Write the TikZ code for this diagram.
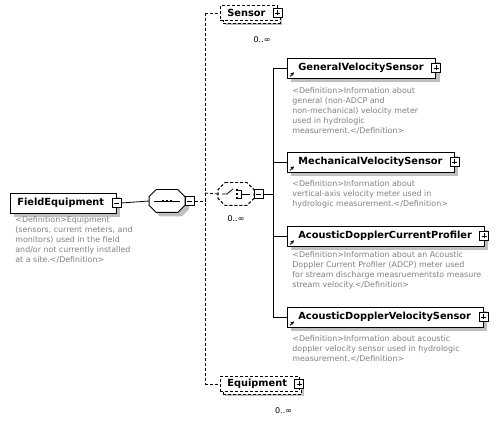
\documentclass[tikz,border=0pt]{standalone}
\usepackage{fontspec}
\setmainfont{DejaVu Sans}
\usetikzlibrary{shadows,arrows.meta}

% octagon outline of a compositor, drawn around a named node
\newcommand{\compshape}[2]{%
  \draw[#2] ([xshift=7pt]#1.north west) -- ([xshift=-7pt]#1.north east)
    -- ([yshift=-7pt]#1.north east) -- ([yshift=7pt]#1.south east)
    -- ([xshift=-7pt]#1.south east) -- ([xshift=7pt]#1.south west)
    -- ([yshift=7pt]#1.south west) -- ([yshift=-7pt]#1.north west) -- cycle;}

\begin{document}
\begin{tikzpicture}[x=1pt,y=-1pt,line width=0.8pt,
    shade/.style={drop shadow={shadow xshift=4pt,shadow yshift=-4pt,fill=black!25,opacity=1}},
    optline/.style={dash pattern=on 3pt off 2pt},
    box/.style={rectangle,draw,fill=white,inner xsep=7pt,inner ysep=0pt,anchor=west,
      font=\fontsize{9.8}{11}\selectfont\bfseries,execute at end node={\hspace{5pt}}},
    elem/.style={box,minimum height=20pt,shade},
    refelem/.style={elem,execute at begin node={\hspace{4pt}}},
    optelem/.style={box,optline,minimum height=15pt,
      drop shadow={shadow xshift=5pt,shadow yshift=-5pt,fill=black!25,opacity=1},
      general shadow={shadow xshift=2.5pt,shadow yshift=-2.5pt,draw=black,optline,fill=white}},
    defn/.style={anchor=north west,inner sep=0pt,align=left,text=black!50,
      font=\fontsize{7.9}{10}\selectfont},
    mult/.style={inner sep=0pt,font=\fontsize{8}{9}\selectfont},
    pm/.style={rectangle,draw,solid,fill=white,minimum size=9pt,inner sep=0pt},
    minus/.style={pm,path picture={
      \draw ([xshift=2pt]path picture bounding box.west) -- ([xshift=-2pt]path picture bounding box.east);}},
    plus/.style={pm,path picture={
      \draw ([xshift=2pt]path picture bounding box.west) -- ([xshift=-2pt]path picture bounding box.east);
      \draw ([yshift=-2pt]path picture bounding box.north) -- ([yshift=2pt]path picture bounding box.south);}},
    comp/.style={rectangle,minimum width=35pt,minimum height=22pt,inner sep=0pt},
    link/.style={-{Stealth[length=3.5pt,width=3.5pt]},line width=0.9pt}]

    \useasboundingbox (0,0) rectangle (499,425);

    % Root element
    \node[elem] (fe) at (10,203) {FieldEquipment};
    \node[minus] (fe-pm) at (fe.east) {};
    \node[defn] (fe-def) at (15,216) {<Definition>Equipment\\(sensors, current meters, and\\monitors) used in the field\\and/or not currently installed\\at a site.</Definition>};

    % Sequence
    \node[comp] (seq) at (167,201) {};
    \compshape{seq}{fill=white,shade}
    \node[minus,anchor=west] (seq-pm) at (seq.east) {};
    \draw (fe-pm.east) -- (seq.west);
    \draw ([xshift=5pt]seq.west) -- ([xshift=-5pt]seq.east);
    \foreach \dx in {-4,0,4}
      \fill ([xshift=\dx pt]seq.center) +(-1.4pt,-1.4pt) rectangle +(1.4pt,1.4pt);

    % Bus to the optional parts
    \coordinate (bus-top) at (205,13);
    \coordinate (bus-mid) at (205,201);
    \coordinate (bus-ch) at (205,193);
    \coordinate (bus-bot) at (205,384);
    \draw[optline] (seq-pm.east) -- (bus-mid);
    \draw[optline] (bus-top) -- (bus-bot);

    % Sensor
    \node[optelem] (sensor) at (220,13) {Sensor};
    \node[plus] (sensor-pm) at (sensor.east) {};
    \node[mult,anchor=north east] (sensor-m) at ([xshift=-7pt,yshift=-15pt]sensor.south east) {0..∞};
    \draw[optline] (bus-top) -- (sensor.west);

    % Choice
    \node[comp] (ch) at (236,194) {};
    \compshape{ch}{fill=black!25,draw=none,xshift=5pt,yshift=-5pt}
    \compshape{ch}{fill=white,optline,xshift=2.5pt,yshift=-2.5pt}
    \compshape{ch}{fill=white,optline}
    \node[minus,anchor=west] (ch-pm) at (ch.east) {};
    \node[mult,anchor=north] (ch-m) at ([yshift=-10pt]ch.south) {0..∞};
    \draw[optline] (bus-ch) -- (ch.west);
    \draw ([xshift=4pt]ch.west) -- ([xshift=-9pt]ch.center) -- ([xshift=-3pt,yshift=5pt]ch.center);
    \foreach \dy in {-4,0,4}
      \fill ([xshift=1pt,yshift=\dy pt]ch.center) +(-1.4pt,-1.4pt) rectangle +(1.4pt,1.4pt);
    \draw ([xshift=2pt,yshift=4pt]ch.center) -- ++(3,0) -- ++(0,8) -- ++(-3,0);
    \draw ([xshift=5pt]ch.center) -- ([xshift=-4pt]ch.east);

    % Choice members
    \coordinate (ch-top) at (273,68);
    \coordinate (ch-bot) at (273,317);
    \coordinate (ch-in) at (273,194);
    \draw (ch-pm.east) -- (ch-in);
    \draw (ch-top) -- (ch-bot);

    \node[refelem] (gvs) at (287,68) {GeneralVelocitySensor};
    \node[plus] (gvs-pm) at (gvs.east) {};
    \draw (ch-top) -- (gvs.west);
    \draw[link] ([xshift=3pt,yshift=2pt]gvs.south west) -- ++(4,-4);
    \node[defn] (gvs-def) at (292,87) {<Definition>Information about\\general (non-ADCP and\\non-mechanical) velocity meter\\used in hydrologic\\measurement.</Definition>};

    \node[refelem] (mvs) at (287,162) {MechanicalVelocitySensor};
    \node[plus] (mvs-pm) at (mvs.east) {};
    \coordinate (mvs-in) at (273,162);
    \draw (mvs-in) -- (mvs.west);
    \draw[link] ([xshift=3pt,yshift=2pt]mvs.south west) -- ++(4,-4);
    \node[defn] (mvs-def) at (292,180) {<Definition>Information about\\vertical-axis velocity meter used in\\hydrologic measurement.</Definition>};

    \node[refelem] (adcp) at (287,236) {AcousticDopplerCurrentProfiler};
    \node[plus] (adcp-pm) at (adcp.east) {};
    \coordinate (adcp-in) at (273,236);
    \draw (adcp-in) -- (adcp.west);
    \draw[link] ([xshift=3pt,yshift=2pt]adcp.south west) -- ++(4,-4);
    \node[defn] (adcp-def) at (292,251) {<Definition>Information about an Acoustic\\Doppler Current Profiler (ADCP) meter used\\for stream discharge measruementsto measure\\stream velocity.</Definition>};

    \node[refelem] (advs) at (287,317) {AcousticDopplerVelocitySensor};
    \node[plus] (advs-pm) at (advs.east) {};
    \draw (ch-bot) -- (advs.west);
    \draw[link] ([xshift=3pt,yshift=2pt]advs.south west) -- ++(4,-4);
    \node[defn] (advs-def) at (292,335) {<Definition>Information about acoustic\\doppler velocity sensor used in hydrologic\\measurement.</Definition>};

    % Equipment
    \node[optelem] (equip) at (220,384) {Equipment};
    \node[plus] (equip-pm) at (equip.east) {};
    \node[mult,anchor=north east] (equip-m) at ([xshift=-7pt,yshift=-15pt]equip.south east) {0..∞};
    \draw[optline] (bus-bot) -- (equip.west);
\end{tikzpicture}
\end{document}
